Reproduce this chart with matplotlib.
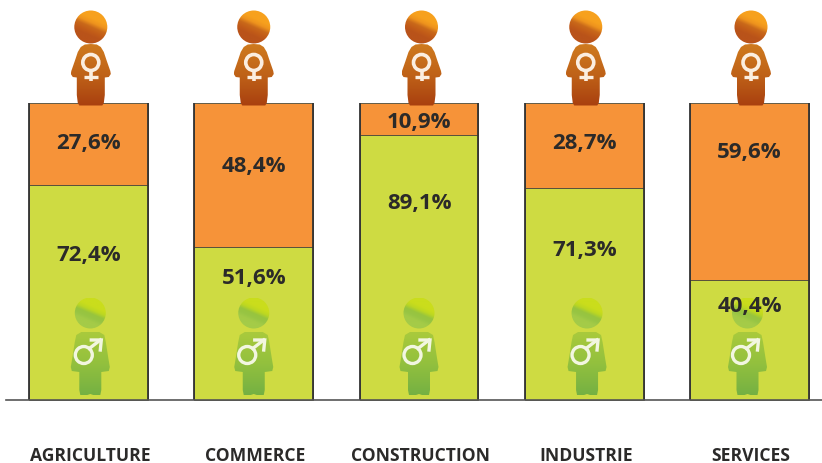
import numpy as np
import matplotlib
matplotlib.use('Agg')
import matplotlib.pyplot as plt
from matplotlib.patches import Circle, PathPatch
from matplotlib.path import Path
from matplotlib.colors import LinearSegmentedColormap

# values
sectors = ['AGRICULTURE', 'COMMERCE', 'CONSTRUCTION', 'INDUSTRIE', 'SERVICES']
men = [72.4, 51.6, 89.1, 71.3, 40.4]
women = [27.6, 48.4, 10.9, 28.7, 59.6]

# label heights on the value axis (they are not centred in the bars)
men_label_at = [48.7, 41.0, 66.2, 50.4, 31.4]
women_label_at = [86.2, 78.6, 93.6, 86.2, 83.2]

# small sideways shifts of the icons, in pixels
woman_shift = [2.3, 0, 2.5, 1.5, 1.5]
man_shift = [1.8, 0, 0, 2.8, -2.0]

W, H = 822, 463
BASE_PX, TOP_PX = 400, 103
FIRST_PX, STEP_PX = 88.5, 165.25

plt.rcParams['font.family'] = ['Open Sans', 'DejaVu Sans']

fig = plt.figure(figsize=(W / 100, H / 100), dpi=100)
ax = fig.add_axes([0, (H - BASE_PX) / H, 1, (BASE_PX - TOP_PX) / H])
ax.set_xlim(-FIRST_PX / STEP_PX, (W - FIRST_PX) / STEP_PX)
ax.set_ylim(0, 100)
ax.axis('off')

x = np.arange(len(sectors))
bar_w = 0.72
ax.bar(x, men, width=bar_w, color='#cedb42', edgecolor='#4a4a3a', linewidth=0.6, clip_on=False)
ax.bar(x, women, bottom=men, width=bar_w, color='#f69339', edgecolor='#4a4a3a', linewidth=0.6, clip_on=False)
ax.vlines(np.r_[x - bar_w / 2, x + bar_w / 2], 0, 100, color='#333333', lw=1.3)
ax.plot([6 / W, 1], [(H - BASE_PX) / H] * 2, transform=fig.transFigure, color='#555555', lw=1.2, clip_on=False)

# overlay in pixels for the little people
ov = fig.add_axes([0, 0, 1, 1], zorder=2)
ov.axis('off')
ov.patch.set_alpha(0)

woman_cmap = LinearSegmentedColormap.from_list('w', ['#cf7a1e', '#bf6218', '#a9400f'])
woman_head = LinearSegmentedColormap.from_list('wh', ['#f7a11e', '#ee931d', '#c9691a', '#c25c18', '#b9531a'])
man_cmap = LinearSegmentedColormap.from_list('m', ['#a9ca3c', '#92c03e', '#74b043'])
man_head = LinearSegmentedColormap.from_list('mh', ['#cadd1c', '#bcd722', '#97c43e', '#98c544', '#a4cb48'])


def fill_grad(patch, cmap, x0, x1, y0, y1, tilt=0.0):
    ov.add_patch(patch)
    patch.set_facecolor('none')
    patch.set_edgecolor('none')
    gx, gy = np.meshgrid(np.linspace(0, 1, 64), np.linspace(0, 1, 64))
    # tilt gives the head its slanted shine
    grad = (gy + tilt * gx) / (1 + tilt)
    im = ov.imshow(grad, cmap=cmap, aspect='auto', extent=[x0, x1, y1, y0], zorder=3,
                   vmin=0, vmax=1)
    im.set_clip_path(patch)


def body(cx, pts):
    # pts are offsets from the figure centre, mirrored for the other side
    right = [(cx + a, b) for a, b in pts]
    left = [(cx - a, b) for a, b in reversed(pts)]
    verts = right + left + [right[0]]
    codes = [Path.MOVETO] + [Path.LINETO] * (len(verts) - 2) + [Path.CLOSEPOLY]
    return PathPatch(Path(verts, codes))


woman_shape = [(0, 44), (6, 44.5), (10, 47), (13, 52), (16, 61), (19.5, 71), (20, 74), (18, 77),
               (14, 77.5), (14, 85), (14, 95), (13, 103), (11.5, 105.5)]
man_shape = [(0, 332), (9, 332), (14, 335), (15.5, 342), (18, 358), (19.5, 367), (18.5, 371), (11, 372),
             (11, 380), (11, 390), (10, 395), (3, 395), (0, 394)]

for i in range(len(sectors)):
    cx = FIRST_PX + STEP_PX * i

    # woman above the bar
    fx = cx + woman_shift[i]
    fill_grad(Circle((fx, 27), 16.5), woman_head, fx - 17, fx + 17, 10, 44, tilt=-0.45)
    fill_grad(body(fx, woman_shape), woman_cmap, fx - 20, fx + 20, 44, 106)
    ov.add_patch(Circle((fx, 62.5), 8, fc='none', ec='#fbeee0', lw=2.6, zorder=4))
    ov.plot([fx, fx], [71, 81], color='#fbeee0', lw=2.6, zorder=4, solid_capstyle='butt')
    ov.plot([fx - 7, fx + 7], [76.5, 76.5], color='#fbeee0', lw=2.4, zorder=4, solid_capstyle='butt')

    # man inside the bar
    mx = cx + man_shift[i]
    fill_grad(Circle((mx, 313), 15.5), man_head, mx - 16, mx + 16, 298, 329, tilt=-0.45)
    fill_grad(body(mx, man_shape), man_cmap, mx - 20, mx + 20, 332, 396)
    ov.add_patch(Circle((mx - 6.5, 355), 8.5, fc='none', ec='#f2f6e0', lw=2.4, zorder=4))
    ov.plot([mx - 1, mx + 10], [348.5, 340], color='#f2f6e0', lw=2.4, zorder=4)
    ov.plot([mx + 1, mx + 11, mx + 10], [340, 340, 350], color='#f2f6e0', lw=2.4, zorder=4,
            solid_joinstyle='miter')

ov.set_xlim(0, W)
ov.set_ylim(H, 0)

# value labels
txt = fig.add_axes(ax.get_position(), zorder=3)
txt.set_xlim(ax.get_xlim())
txt.set_ylim(0, 100)
txt.axis('off')
txt.patch.set_alpha(0)
for i in range(len(sectors)):
    txt.text(x[i], men_label_at[i], f'{men[i]:.1f}%'.replace('.', ','), ha='center', va='center',
             fontsize=16, fontweight='bold', color='#2b2a29')
    txt.text(x[i], women_label_at[i], f'{women[i]:.1f}%'.replace('.', ','), ha='center', va='center',
             fontsize=16, fontweight='bold', color='#2b2a29')
    txt.text(x[i] + 0.01, -18.9, sectors[i], ha='center', va='center', fontsize=12.6, fontweight='bold',
             color='#2b2a29', clip_on=False)

fig.savefig('out.png', dpi=100)
